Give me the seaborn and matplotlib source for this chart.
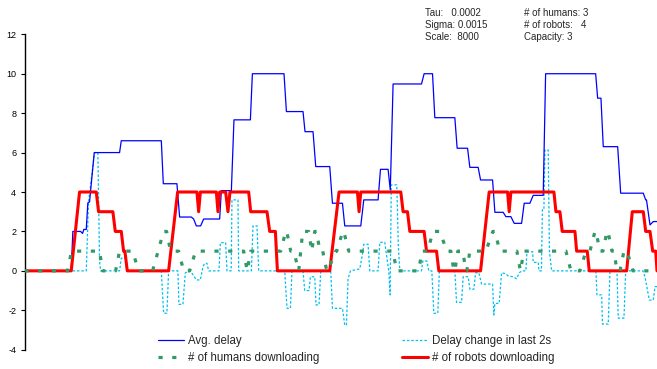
import matplotlib
matplotlib.use("Agg")
import matplotlib.pyplot as plt
import seaborn as sns
import pandas as pd

# Time axis is in seconds from start of the run; each series is a list of vertices
avg_delay_t = [0, 46.7, 48.3, 56, 58, 59.3, 61.7, 63.3, 65, 69.7, 95, 96.7, 136.7, 138.7,
               152.3, 155, 166.7, 169, 171.7, 176, 179, 195, 196.7, 206.7, 209.3, 225.7,
               227.7, 259.3, 261.7, 278.3, 280.3, 288.3, 291, 305, 307.7, 317.7, 320, 336,
               339, 353.3, 355.7, 363.3, 365.5, 368.3, 396.7, 399.3, 407.7, 410, 430, 432.3,
               442.7, 445, 453.3, 455.7, 467.7, 470, 478.3, 481, 486, 489.3, 496.7, 499.3,
               505, 508.3, 518.3, 520.7, 570.7, 572.7, 576, 578.3, 592.7, 595.7, 618.3,
               620.7, 621.5, 625, 628.3, 632]
avg_delay_v = [0, 0, 2.0, 2.0, 1.9, 2.1, 2.1, 3.45, 3.5, 6.0, 6.0, 6.6, 6.6, 4.42,
               4.42, 2.73, 2.73, 2.63, 2.28, 2.28, 2.63, 2.63, 4.07, 4.07, 7.66, 7.66,
               10.0, 10.0, 8.08, 8.08, 7.06, 7.06, 5.29, 5.29, 3.43, 3.43, 2.28, 2.28,
               3.6, 3.6, 5.15, 5.15, 4.1, 9.48, 9.48, 10.0, 10.0, 7.77, 7.77, 6.22,
               6.22, 5.25, 5.25, 4.61, 4.61, 2.97, 2.97, 2.75, 2.75, 2.41, 2.41, 3.43,
               3.43, 3.83, 3.83, 10.0, 10.0, 8.76, 8.76, 6.3, 6.3, 3.94, 3.94,
               3.6, 3.6, 2.33, 2.5, 2.5]

delay_change_t = [0, 61.7, 64, 70, 73.3, 75, 76, 95, 96.7, 101, 102, 136.7, 139, 142.3, 144,
                  153.3, 154.3, 158.3, 160.7, 165, 167, 171.7, 175.7, 178.3, 180, 182.3, 184,
                  194.3, 195.7, 201, 202.3, 206.5, 207.3, 213.3, 214, 226.7, 228.3, 232.3, 234,
                  260, 262.3, 265.7, 267.3, 278.3, 280, 284.3, 285.7, 290, 291.3, 294.3, 296,
                  306, 307.7, 317.7, 320, 321.7, 323.3, 325.7, 335, 337.3, 339, 343.3, 345,
                  353.3, 355, 360, 362, 364, 365.3, 366.5, 372, 373.5, 375,
                  396.7, 398, 402, 404, 407, 409, 413, 414.5,
                  430, 431.7, 436.7, 438.3, 443.3, 445, 449, 450.7, 454, 456.7, 467.7, 469,
                  470, 474.3, 476.7, 481, 483, 488, 491.7, 494.3, 497, 501, 502, 507.7, 508.3,
                  513.3, 514, 516.5, 517.5, 519, 520, 523.3, 524.5, 526.7,
                  571, 572, 576.7, 577.5, 583.3, 585, 592, 593.3, 599, 600.7,
                  618, 620, 624.3, 628.3, 630, 632]
delay_change_v = [0, 0, 3.5, 6.0, 6.0, 0.5, 0, 0, 0.64, 0.64, 0, 0, -2.15, -2.15, 0,
                  0, -1.7, -1.7, -0.1, 0, -0.1, -0.46, -0.46, 0.21, 0.38, 0.38, 0,
                  0, 1.43, 1.43, 0, 0, 3.6, 3.6, 0, 0, 2.28, 2.28, 0,
                  0, -1.9, -1.9, 0, 0, -1.0, -1.0, -0.3, -0.3, -1.73, -1.73, 0,
                  0, -1.9, -1.9, -2.75, -2.75, -0.4, 0, 0.1, 0.72, 1.35, 1.35, 0,
                  0, 1.45, 1.45, 0.7, 0, -1.22, 4.36, 4.36, 1.3, 0,
                  0, 0.5, 0.5, 0, 0, -2.15, -2.15, 0,
                  0, -1.6, -1.6, -0.3, -0.3, -0.93, -0.93, -0.1, -0.1, -0.67, -0.67, -2.24,
                  -1.65, -1.65, -0.1, -0.15, -0.25, -0.3, -0.4, -0.1, 0, 0, 0.97, 0.97, 0.43,
                  0.43, 0, 0, 3.1, 3.1, 6.13, 6.13, 1.0, 0,
                  0, -1.22, -1.22, -2.7, -2.7, 0, 0, -2.4, -2.4, 0,
                  0, -0.3, -1.48, -1.48, -0.8, -0.8]

humans_t = [0, 43, 47, 75, 78, 91, 95, 108, 114, 128, 139, 142, 146, 154, 159, 165, 171,
            219, 222.5, 226, 256, 261, 262, 266, 269, 274, 278, 284, 287, 290, 292, 295,
            298, 302, 303, 311, 312, 318, 319, 324, 368, 372, 394, 397, 403, 408, 415,
            422, 426, 429, 430, 433, 438, 441, 442, 445, 461, 468, 470, 475, 492, 495.5,
            499, 541, 546, 555, 561, 565, 570, 571, 575, 578, 582, 583, 587, 589, 592,
            595, 599, 602, 608, 632]
humans_v = [0, 0, 1, 1, 0, 0, 1, 1, 0, 0, 2, 2, 1, 1, 0, 0, 1,
            1, 0, 1, 1, 2, 2, 1, 1, 0, 2, 2, 1, 2, 2, 1,
            1, 0, 0, 1, 1, 2, 2, 1, 1, 0, 0, 1, 1, 2, 2,
            1, 1, 0, 0, 1, 1, 0, 0, 1, 1, 2, 2, 1, 1, 0,
            1, 1, 0, 0, 1, 1, 2, 2, 1, 1, 2, 2, 1, 1, 0,
            0, 1, 1, 0, 0]

robots_t = [0, 46.7, 55, 71.7, 74, 88.3, 90.7, 96.7, 99, 100.3, 102.7, 144, 153, 172.3,
            174, 175.7, 191.7, 193.3, 195, 201, 203.3, 205.3, 224, 226, 242.3, 245, 250.7,
            252.7, 305, 314.3, 332.7, 334.3, 336, 376, 378.3, 382.7, 385, 399.3, 401.7,
            411.7, 414, 455.7, 464.3, 482.7, 484.3, 486, 529, 531, 535, 537.3, 550, 551.7,
            562.3, 564.3, 601.7, 607.3, 618.3, 620.7, 625, 627.7, 630.7, 632]
robots_v = [0, 0, 4, 4, 3, 3, 2, 2, 1, 1, 0, 0, 4, 4,
            3, 4, 4, 3, 4, 4, 3, 4, 4, 3, 3, 2, 2,
            0, 0, 4, 4, 3, 4, 4, 3, 3, 2, 2, 1,
            1, 0, 0, 4, 4, 3, 4, 4, 3, 3, 2, 2, 1,
            1, 0, 0, 3, 3, 2, 2, 1, 1, 0]

params_left = ["Tau:   0.0002", "Sigma: 0.0015", "Scale:  8000"]
params_right = ["# of humans: 3", "# of robots:   4", "Capacity: 3"]

sns.set_style("white")
plt.rcParams["font.family"] = ["Liberation Sans", "DejaVu Sans"]
plt.rcParams["axes.unicode_minus"] = False

fig = plt.figure(figsize=(6.57, 3.69), dpi=100)
ax = fig.add_axes([24.5 / 657, 19.3 / 369, 632.5 / 657, 315.4 / 369])

sns.lineplot(x=delay_change_t, y=delay_change_v, ax=ax, sort=False, estimator=None,
             color="#00C0F0", linewidth=0.9, linestyle=(0, (2.0, 1.5)),
             label="Delay change in last 2s", zorder=2)
sns.lineplot(x=avg_delay_t, y=avg_delay_v, ax=ax, sort=False, estimator=None,
             color="#0000FF", linewidth=0.9, label="Avg. delay", zorder=3)
sns.lineplot(x=robots_t, y=robots_v, ax=ax, sort=False, estimator=None,
             color="#FF0000", linewidth=2.2, label="# of robots downloading", zorder=4)
sns.lineplot(x=humans_t, y=humans_v, ax=ax, sort=False, estimator=None,
             color="#339966", linewidth=2.3, linestyle=(0, (1.3, 3.0)),
             label="# of humans downloading", zorder=5)

ax.set_xlim(0, 632)
ax.set_ylim(-4, 12)
ax.set_yticks(range(-4, 13, 2))
ax.set_xticks([])
for side in ("top", "right", "bottom"):
    ax.spines[side].set_visible(False)
ax.spines["left"].set_color("#000000")
ax.spines["left"].set_linewidth(1.0)
ax.tick_params(axis="y", direction="out", length=3, width=0.8, pad=3,
               labelsize=6.5, colors="#000000", left=True)
ax.set_xlabel("")
ax.set_ylabel("")

handles, labels = ax.get_legend_handles_labels()
lookup = dict(zip(labels, handles))
leg_kw = dict(frameon=False, fontsize=8.3, borderpad=0, borderaxespad=0,
              handlelength=2.2, handletextpad=0.4, labelspacing=0.45,
              loc="center left", bbox_transform=fig.transFigure)
left_names = ["Avg. delay", "# of humans downloading"]
right_names = ["Delay change in last 2s", "# of robots downloading"]
leg1 = ax.legend([lookup[n] for n in left_names], left_names,
                 bbox_to_anchor=(158.3 / 657, 1 - 349.2 / 369), **leg_kw)
ax.add_artist(leg1)
ax.legend([lookup[n] for n in right_names], right_names,
          bbox_to_anchor=(402.3 / 657, 1 - 349.2 / 369), **leg_kw)

for i, (a, b) in enumerate(zip(params_left, params_right)):
    y = 1 - (13 + 12 * i) / 369
    fig.text(425 / 657, y, a, fontsize=7, va="center", ha="left")
    fig.text(524.3 / 657, y, b, fontsize=7, va="center", ha="left")

fig.savefig("out.png", dpi=100)
